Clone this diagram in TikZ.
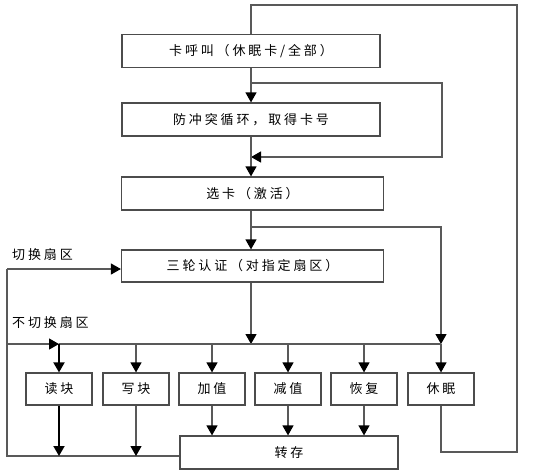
\documentclass[tikz,border=0pt]{standalone}
\usepackage{fontspec}
\newfontfamily\cjk[LetterSpace=22]{Noto Sans CJK SC}
\usetikzlibrary{arrows.meta}

\tikzset{
  box/.style={draw=black!70, line width=1.2pt, fill=white, font=\cjk\fontsize{13}{15}\selectfont, inner sep=0pt},
  wide/.style={box, minimum width=258pt, minimum height=33pt},
  small/.style={box, minimum width=66pt, minimum height=32pt},
  link/.style={draw=black!65, line width=1.2pt},
  tip/.style={-{Triangle[length=10pt,width=11pt,color=black]}},
  arr/.style={link, tip},
  thick link/.style={draw=black, line width=1.8pt},
  thick arr/.style={thick link, tip},
  lbl/.style={font=\cjk\fontsize{13}{15}\selectfont, anchor=west, inner sep=0pt}
}

\begin{document}
\begin{tikzpicture}[x=1pt, y=-1pt]
  \useasboundingbox[fill=white] (0,0) rectangle (537,475);

  \node[wide] (call) at (251, 51) {卡呼叫（休眠卡/全部）};
  \node[wide] (anti) at (251, 119.5) {防冲突循环，取得卡号};
  \node[wide, minimum width=262pt] (sel) at (252.5, 193.5) {选卡（激活）};
  \node[wide, minimum width=262pt, minimum height=32pt] (auth) at (252.5, 266) {三轮认证（对指定扇区）};

  \node[small] (read) at (59, 389) {读块};
  \node[small] (write) at (136, 389) {写块};
  \node[small] (inc) at (212, 389) {加值};
  \node[small] (dec) at (288, 389) {减值};
  \node[small] (rest) at (364, 389) {恢复};
  \node[small] (halt) at (441, 389) {休眠};
  \node[box, minimum width=218pt, minimum height=33pt] (store) at (289, 452.5) {转存};

  \node[lbl] (swlbl) at (12, 255) {切换扇区};
  \node[lbl] (nswlbl) at (12, 323) {不切换扇区};

  \coordinate (top) at (251, 5);
  \coordinate (topr) at (517, 5);
  \coordinate (loopa) at (251, 83);
  \coordinate (loopb) at (251, 157);
  \coordinate (fork) at (251, 227);
  \coordinate (busc) at (251, 344);
  \coordinate (busl) at (7, 344);
  \coordinate (busr) at (441, 344);
  \coordinate (swl) at (7, 269);
  \coordinate (botl) at (7, 456);
  \coordinate (botr) at (517, 452);

  % main chain
  \draw[arr] (call.south -| loopa) -- (anti.north -| loopa);
  \draw[arr] (loopa) -- ++(191,0) |- (loopb);
  \draw[arr] (anti.south -| loopa) -- (sel.north -| loopa);
  \draw[arr] (sel.south -| loopa) -- (auth.north -| loopa);
  \draw[arr] (fork) -| (busr);
  \draw[arr] (auth.south -| busc) -- (busc);

  % bus
  \draw[arr] (busl) -- (busl -| read);
  \draw[link] (busl -| read) -- (busr);
  \draw[thick arr] (busl -| read) -- (read.north);
  \foreach \n in {write, inc, dec, rest, halt}
    \draw[arr] (busl -| \n) -- (\n.north);

  % sector switch loop
  \draw[arr] (swl) -- (auth.west |- swl);
  \draw[link] (swl) -- (botl) -- (botl -| store.west);
  \draw[thick arr] (read.south) -- (botl -| read);
  \draw[arr] (write.south) -- (botl -| write);
  \foreach \n in {inc, dec, rest}
    \draw[arr] (\n.south) -- (\n.south |- store.north);

  % halt back to call
  \draw[link] (halt.south) |- (botr) -- (topr) -- (top) -- (call.north -| top);
\end{tikzpicture}
\end{document}
